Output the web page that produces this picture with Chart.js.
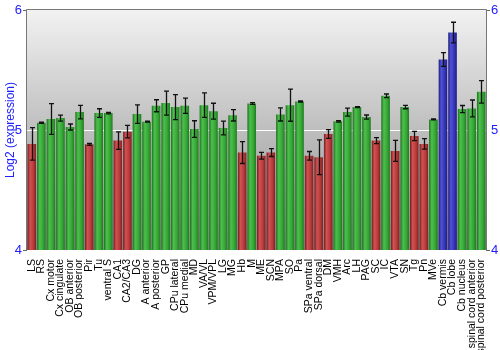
<!DOCTYPE html>
<html>
<head>
<meta charset="utf-8">
<script src="https://cdn.jsdelivr.net/npm/chart.js@4"></script>
<style>
  html, body { margin: 0; padding: 0; background: #fff; }
  #wrap { width: 500px; height: 350px; }
</style>
</head>
<body>
<div id="wrap"><canvas id="barChart" width="500" height="350"></canvas></div>
<script>
/* eslint-disable no-undef */
// regiones del cerebro y su expresion (log2) con error estandar
const regiones = ['LS', 'RS', 'Cx motor', 'Cx cingulate', 'OB anterior', 'OB posterior', 'Pir', 'Tu', 'ventral S', 'CA1',
  'CA2/CA3', 'DG', 'A anterior', 'A posterior', 'GP', 'CPu lateral', 'CPu medial', 'MD', 'VA/VL', 'VPM/VPL',
  'LG', 'MG', 'Hb', 'M', 'ME', 'SCN', 'MPA', 'SO', 'Pa', 'SPa ventral',
  'SPa dorsal', 'DM', 'VMH', 'Arc', 'LH', 'PAG', 'SC', 'IC', 'VTA', 'SN',
  'Tg', 'Pn', 'MVe', 'Cb vermis', 'Cb lobe', 'Cb nucleus', 'spinal cord anterior', 'spinal cord posterior']
const expresion = [4.884, 5.061, 5.091, 5.099, 5.025, 5.149, 4.881, 5.141, 5.141, 4.912,
  4.986, 5.133, 5.069, 5.202, 5.224, 5.191, 5.202, 5.008, 5.207, 5.157,
  5.017, 5.122, 4.812, 5.221, 4.785, 4.812, 5.130, 5.207, 5.238, 4.785,
  4.773, 4.967, 5.072, 5.149, 5.191, 5.108, 4.912, 5.285, 4.826, 5.191,
  4.950, 4.884, 5.088, 5.588, 5.812, 5.174, 5.180, 5.318]
const errores = [0.135, 0.005, 0.128, 0.025, 0.025, 0.057, 0.008, 0.036, 0.006, 0.073,
  0.052, 0.077, 0.004, 0.050, 0.100, 0.104, 0.064, 0.069, 0.102, 0.066,
  0.057, 0.047, 0.091, 0.007, 0.028, 0.033, 0.055, 0.134, 0.005, 0.036,
  0.145, 0.036, 0.006, 0.033, 0.004, 0.017, 0.025, 0.015, 0.087, 0.014,
  0.039, 0.044, 0.004, 0.057, 0.086, 0.030, 0.070, 0.094]
const ticksY = [4, 5, 6]

const azul = '#2020ff'
const ctx1 = document.getElementById('barChart').getContext('2d')

// colores segun el nivel: rojo bajo 5, azul sobre 5.5, verde el resto
function paleta (valor) {
  if (valor < 5) return ['#6e1c1c', '#d05252', '#b83a3a', '#7a2020']
  if (valor > 5.5) return ['#1c1c78', '#5252d8', '#3434b8', '#1e1e80']
  return ['#1e6e1e', '#4cc04c', '#36a636', '#1f7a1f']
}

// relleno tipo cilindro para cada barra
function rellenoBarra (context) {
  const chart = context.chart
  const x = chart.scales.x
  const valor = expresion[context.dataIndex]
  const c = paleta(valor)
  if (!x || x.width === undefined || !chart.chartArea) return c[2]
  const centro = x.getPixelForValue(context.dataIndex)
  const ancho = (x.width / regiones.length) * 0.9
  const g = chart.ctx.createLinearGradient(centro - ancho / 2, 0, centro + ancho / 2, 0)
  g.addColorStop(0, c[0])
  g.addColorStop(0.3, c[1])
  g.addColorStop(0.7, c[2])
  g.addColorStop(1, c[3])
  return g
}

// fondo gris degradado y marco del area de la grafica
const fondo = {
  id: 'fondo',
  beforeDatasetsDraw (chart) {
    const { ctx, chartArea: a } = chart
    ctx.save()
    const g = ctx.createLinearGradient(0, a.top, 0, a.bottom)
    g.addColorStop(0, '#f2f2f2')
    g.addColorStop(1, '#8a8a8a')
    ctx.fillStyle = g
    ctx.fillRect(a.left, a.top, a.right - a.left, a.bottom - a.top)
    // linea blanca en 5
    const y5 = chart.scales.y.getPixelForValue(5)
    ctx.strokeStyle = '#ffffff'
    ctx.lineWidth = 1
    ctx.beginPath()
    ctx.moveTo(a.left, Math.round(y5) + 0.5)
    ctx.lineTo(a.right, Math.round(y5) + 0.5)
    ctx.stroke()
    ctx.restore()
  },
  afterDraw (chart) {
    const { ctx, chartArea: a } = chart
    ctx.save()
    ctx.strokeStyle = '#777777'
    ctx.lineWidth = 1
    ctx.beginPath()
    ctx.moveTo(Math.round(a.left) - 0.5, a.bottom)
    ctx.lineTo(Math.round(a.left) - 0.5, Math.round(a.top) - 0.5)
    ctx.lineTo(Math.round(a.right) + 0.5, Math.round(a.top) - 0.5)
    ctx.lineTo(Math.round(a.right) + 0.5, a.bottom)
    ctx.stroke()
    ctx.restore()
  }
}

// barras de error
const barrasError = {
  id: 'barrasError',
  afterDatasetsDraw (chart) {
    const { ctx } = chart
    const y = chart.scales.y
    const meta = chart.getDatasetMeta(0)
    ctx.save()
    ctx.strokeStyle = '#111111'
    ctx.lineWidth = 1.3
    meta.data.forEach((bar, i) => {
      const x = Math.round(bar.x) + 0.5
      const arriba = y.getPixelForValue(expresion[i] + errores[i])
      const abajo = y.getPixelForValue(expresion[i] - errores[i])
      ctx.beginPath()
      ctx.moveTo(x, arriba)
      ctx.lineTo(x, abajo)
      ctx.moveTo(x - 2.5, arriba)
      ctx.lineTo(x + 2.5, arriba)
      ctx.moveTo(x - 2.5, abajo)
      ctx.lineTo(x + 2.5, abajo)
      ctx.stroke()
    })
    ctx.restore()
  }
}

const colorMarca = (c) => (c.tick && c.tick.value === 5 ? '#ffffff' : '#666666')

const myChart1 = new Chart(ctx1, {
  type: 'bar',
  data: {
    labels: regiones,
    datasets: [{
      data: expresion,
      backgroundColor: rellenoBarra,
      borderWidth: 0,
      barPercentage: 0.9,
      categoryPercentage: 1
    }]
  },
  options: {
    responsive: false,
    animation: false,
    layout: { padding: { top: 10, left: 0, right: 0, bottom: 0 } },
    plugins: {
      legend: { display: false },
      tooltip: { enabled: false }
    },
    scales: {
      x: {
        grid: { display: false },
        border: { display: false },
        ticks: {
          autoSkip: false,
          minRotation: 90,
          maxRotation: 90,
          padding: 1,
          color: '#000000',
          font: { family: 'Liberation Sans, Arial, sans-serif', size: 10.5 }
        },
        afterFit: (scale) => { scale.height = 100 }
      },
      y: {
        position: 'left',
        min: 4,
        max: 6,
        afterBuildTicks: (scale) => { scale.ticks = ticksY.map(v => ({ value: v })) },
        grid: { drawOnChartArea: false, tickLength: 4, color: colorMarca },
        border: { display: false },
        ticks: {
          padding: 1,
          color: azul,
          font: { family: 'Liberation Sans, Arial, sans-serif', size: 13 }
        },
        title: {
          display: true,
          text: 'Log2 (expression)',
          color: azul,
          padding: { top: 3, bottom: 0 },
          font: { family: 'Liberation Sans, Arial, sans-serif', size: 12 }
        },
        afterFit: (scale) => { scale.width = 27 }
      },
      y2: {
        position: 'right',
        min: 4,
        max: 6,
        afterBuildTicks: (scale) => { scale.ticks = ticksY.map(v => ({ value: v })) },
        grid: { drawOnChartArea: false, tickLength: 4, color: colorMarca },
        border: { display: false },
        ticks: {
          padding: 1,
          color: azul,
          font: { family: 'Liberation Sans, Arial, sans-serif', size: 13 }
        },
        afterFit: (scale) => { scale.width = 14 }
      }
    }
  },
  plugins: [fondo, barrasError]
})
</script>
</body>
</html>
